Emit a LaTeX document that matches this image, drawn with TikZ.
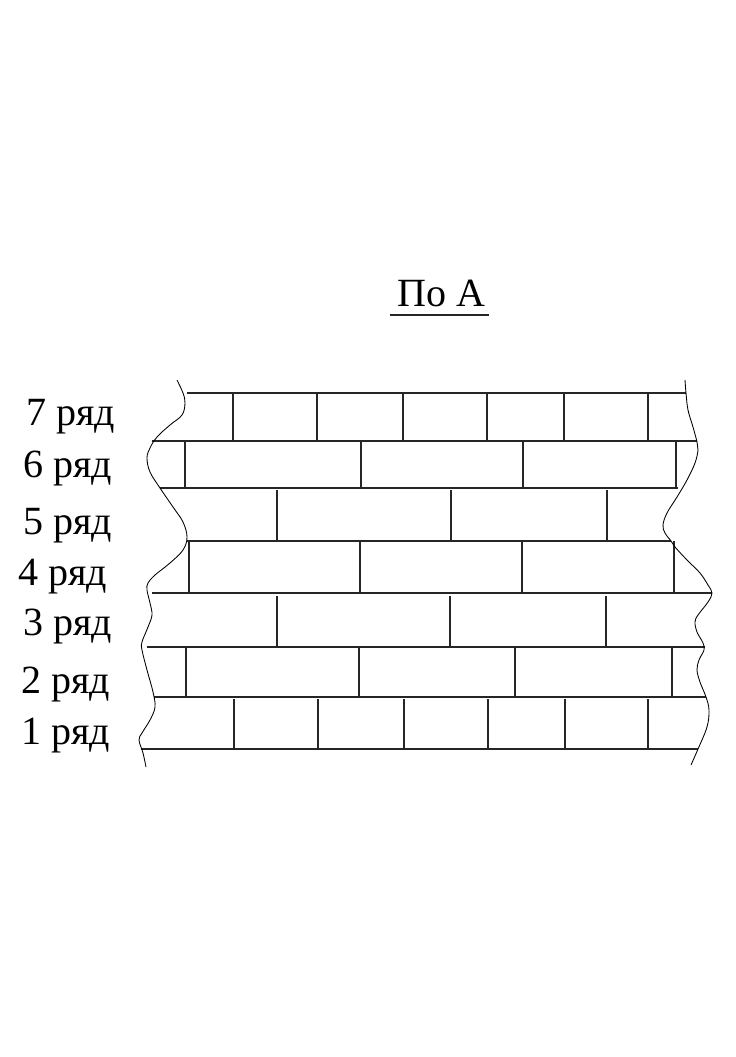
\documentclass[tikz,border=0pt]{standalone}
\usepackage{fontspec}
\setmainfont{Liberation Serif}
\tikzset{
	rowlabel/.style={anchor=base west, inner sep=0pt, font=\fontsize{30.2}{36}\selectfont},
	course/.style={line width=0.85pt, black!85},
	joint/.style={line width=0.85pt, black!85},
	breakline/.style={line width=0.65pt}
}
\begin{document}
\begin{tikzpicture}[x=0.0265cm,y=-0.0265cm]
	\useasboundingbox (0,0) rectangle (736,1057);
	\node [rowlabel] (title) at (397,306) {По А};
	\draw [course] (390,315) -- (489,315);
	\foreach \y/\xa/\xb in {393/187/686, 441/152/697, 488/160/678, 541/187/671, 593/152/712, 647/147/705, 697/154/706, 749/141/698}
		\draw [course] (\xa,\y) -- (\xb,\y);
	\foreach \x in {233,317,403,487,564,648} \draw [joint] (\x,393) -- (\x,441);
	\foreach \x in {185,361,523,676} \draw [joint] (\x,441) -- (\x,488);
	\foreach \x in {277,451,607} \draw [joint] (\x,490) -- (\x,541);
	\foreach \x in {189,360,522,674} \draw [joint] (\x,541) -- (\x,593);
	\foreach \x in {277,450,606} \draw [joint] (\x,596) -- (\x,647);
	\foreach \x in {186,359,515,672} \draw [joint] (\x,647) -- (\x,697);
	\foreach \x in {234,318,404,488,565,648} \draw [joint] (\x,699) -- (\x,749);
	\draw [breakline] plot [smooth, tension=0.6] coordinates {(177,380) (183,393) (185,403) (182,415) (170,425) (157,437) (150,448) (147,458) (150,472) (160,488) (173,507) (183,522) (187,537) (183,550) (170,563) (155,575) (148,583) (147,590) (150,603) (152,615) (148,627) (142,642) (142,650) (147,670) (153,692) (155,707) (150,720) (142,733) (139,740) (143,753) (146,767)};
	\draw [breakline] plot [smooth, tension=0.6] coordinates {(685,380) (686,393) (688,410) (693,427) (697,442) (698,450) (695,463) (687,480) (677,497) (667,513) (663,525) (665,533) (671,541) (675,547) (687,560) (700,573) (708,585) (712,593) (708,602) (698,615) (695,622) (697,632) (703,643) (704,650) (699,660) (697,670) (700,682) (706,697) (709,710) (707,727) (698,749) (691,765)};
	\node [rowlabel] (row7) at (26,425) {7 ряд};
	\node [rowlabel] (row6) at (23,477) {6 ряд};
	\node [rowlabel] (row5) at (23,534) {5 ряд};
	\node [rowlabel] (row4) at (18,585) {4 ряд};
	\node [rowlabel] (row3) at (23,635) {3 ряд};
	\node [rowlabel] (row2) at (21,693) {2 ряд};
	\node [rowlabel] (row1) at (21,744) {1 ряд};
\end{tikzpicture}
\end{document}
